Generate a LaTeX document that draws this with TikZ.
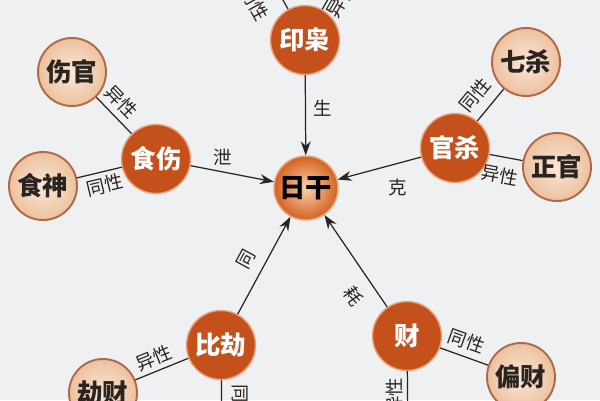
\documentclass[tikz,border=0pt]{standalone}
\usepackage{fontspec}
\newfontfamily\cjk{Noto Sans CJK SC}
\usetikzlibrary{arrows.meta}
\definecolor{bg}{HTML}{EEF0F2}
\definecolor{huo}{HTML}{C4501B}
\definecolor{huoring}{HTML}{EBA47A}
\definecolor{qian}{HTML}{EDC19E}
\definecolor{qianin}{HTML}{FAE8D8}
\definecolor{zong}{HTML}{B06A48}
\definecolor{ri}{HTML}{D4621F}
\definecolor{riin}{HTML}{F8D2AC}
\definecolor{mo}{HTML}{2A2421}
\begin{document}
\begin{tikzpicture}[x=0.02cm,y=-0.02cm,> = {Stealth[length=2.8mm,width=2mm]},
	zhu/.style={circle,fill=huo,draw=huoring,line width=0.8pt,minimum size=1.38cm,inner sep=0pt,text=white,font=\cjk\bfseries\fontsize{14.5}{14.5}\selectfont},
	fu/.style={circle,inner color=qianin,outer color=qian,draw=zong,line width=1.1pt,minimum size=1.36cm,inner sep=0pt,text=mo,font=\cjk\bfseries\fontsize{14.5}{14.5}\selectfont},
	rigan/.style={circle,inner color=riin,outer color=ri,draw=huoring,line width=0.8pt,minimum size=1.28cm,inner sep=0pt,text=black,font=\cjk\bfseries\fontsize{15}{15}\selectfont},
	zi/.style={font=\cjk\fontsize{10.5}{10.5}\selectfont,text=mo,inner sep=0.5pt},
	xian/.style={draw=mo,line width=0.7pt}]
	\useasboundingbox (0,0) rectangle (600,400);
	\clip (0,0) rectangle (600,400);
	\fill[bg] (0,0) rectangle (600,400);
	\node[rigan] (ri) at (306,188) {日干};
	\node[zhu] (yinxiao) at (305,40) {印枭};
	\node[zhu] (shishang) at (156,159) {食伤};
	\node[zhu] (guansha) at (455,148) {官杀};
	\node[zhu] (bijie) at (221,345) {比劫};
	\node[zhu] (cai) at (407,336) {财};
	\node[fu] (shangguan) at (72,72) {伤官};
	\node[fu] (shishen) at (43,186) {食神};
	\node[fu] (qisha) at (526,62) {七杀};
	\node[fu] (zhengguan) at (557,167) {正官};
	\node[fu] (jiecai) at (103,393) {劫财};
	\node[fu] (piancai) at (521,377) {偏财};
	\coordinate (zuoshang) at (261,-40);
	\coordinate (youshang) at (350,-40);
	\coordinate (bixia) at (222,440);
	\coordinate (caixia) at (408,440);
	\draw[xian,->] (yinxiao) -- (ri) node[zi,pos=0.41,right=4pt]{生};
	\draw[xian,->] (shishang) -- (ri) node[zi,pos=0.38,above=3pt]{泄};
	\draw[xian,->] (guansha) -- (ri) node[zi,pos=0.28,below=8pt]{克};
	\draw[xian,->] (bijie) -- (ri) node[zi,pos=0.47,sloped,above=5pt]{同};
	\draw[xian,->] (cai) -- (ri) node[zi,pos=0.25,sloped,below=7pt]{耗};
	\draw[xian] (shangguan) -- (shishang) node[zi,pos=0.41,sloped,above=3pt]{异性};
	\draw[xian] (shishen) -- (shishang) node[zi,pos=0.55,sloped,below=2pt]{同性};
	\draw[xian] (guansha) -- (qisha) node[zi,pos=0.45,sloped,above=5pt]{同性};
	\draw[xian] (guansha) -- (zhengguan) node[zi,pos=0.42,sloped,below=5pt]{异性};
	\draw[xian] (bijie) -- (jiecai) node[zi,pos=0.55,sloped,above=2pt]{异性};
	\draw[xian] (cai) -- (piancai) node[zi,pos=0.44,sloped,above=3pt]{同性};
	\draw[xian] (yinxiao) -- (zuoshang);
	\draw[xian] (yinxiao) -- (youshang);
	\draw[xian] (bijie) -- (bixia);
	\draw[xian] (cai) -- (caixia);
	\node[zi,rotate=-61] (yinzuo) at (255,3) {同性};
	\node[zi,rotate=60] (yinyou) at (341,0) {异性};
	\node[zi,rotate=-90] (bijiexia) at (240,403) {同性};
	\node[zi,rotate=90] (caixiazi) at (395,396) {异性};
\end{tikzpicture}
\end{document}
